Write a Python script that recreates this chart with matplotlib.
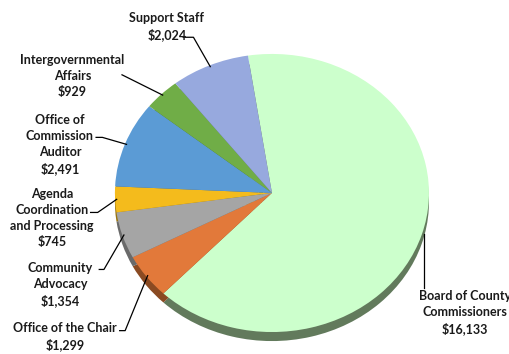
import matplotlib.pyplot as plt
import numpy as np

plt.rcParams['font.family'] = ['Lato', 'DejaVu Sans']

names = ['Board of County\nCommissioners', 'Office of the Chair', 'Community\nAdvocacy',
         'Agenda\nCoordination\nand Processing', 'Office of\nCommission\nAuditor',
         'Intergovernmental\nAffairs', 'Support Staff']
values = [16133, 1299, 1354, 745, 2491, 929, 2024]
colors = ['#ccffcc', '#e2793a', '#a5a5a5', '#f4bb1c', '#5b9bd5', '#70ad47', '#97a9de']
dark_colors = ['#627a5c', '#8a4a22', '#6a6a6a', '#9a7510', '#3a6590', '#456d2c', '#5f6c90']

# label block centres and leader line start points (data units, pie radius = 1)
label_x = [1.23, -1.32, -1.35, -1.40, -1.35, -1.27, -0.67]
label_y = [-0.86, -1.03, -0.66, -0.18, 0.35, 0.84, 1.20]
line_start = [(0.968, -0.685), (-0.97, -0.99), (-1.10, -0.55), (-1.155, -0.14),
              (-1.12, 0.40), (-0.955, 0.85), (-0.565, 1.12)]
line_knee = [(0.968, -0.685), (-0.935, -0.99), (-1.07, -0.55), (-1.11, -0.14),
             (-1.08, 0.40), (-0.955, 0.85), (-0.50, 1.12)]

fig = plt.figure(figsize=(5.1, 3.54), dpi=100)
ax = fig.add_axes([0, 0, 1, 1])

start = 98.8
ax.pie(values, colors=dark_colors, startangle=start, counterclock=False,
       center=(0, -0.065), wedgeprops=dict(linewidth=0))
wedges, _ = ax.pie(values, colors=colors, startangle=start, counterclock=False,
                   wedgeprops=dict(linewidth=0))

ax.set_aspect('auto')
ax.set_xlim(-1.732, 1.516)
ax.set_ylim(-1.158, 1.388)
ax.axis('off')

for i, w in enumerate(wedges):
    mid = np.deg2rad((w.theta1 + w.theta2) / 2)
    end = (np.cos(mid) * 0.99, np.sin(mid) * 0.99)
    if i == 0:
        end = (line_start[0][0], -0.295)
    ax.plot([line_start[i][0], line_knee[i][0], end[0]],
            [line_start[i][1], line_knee[i][1], end[1]], color='black', lw=0.9)
    ax.text(label_x[i], label_y[i], f'{names[i]}\n${values[i]:,}', ha='center', va='center',
            fontsize=9, fontweight='bold', color='#1a1a1a', linespacing=1.38)

fig.savefig('out.png', dpi=100)
